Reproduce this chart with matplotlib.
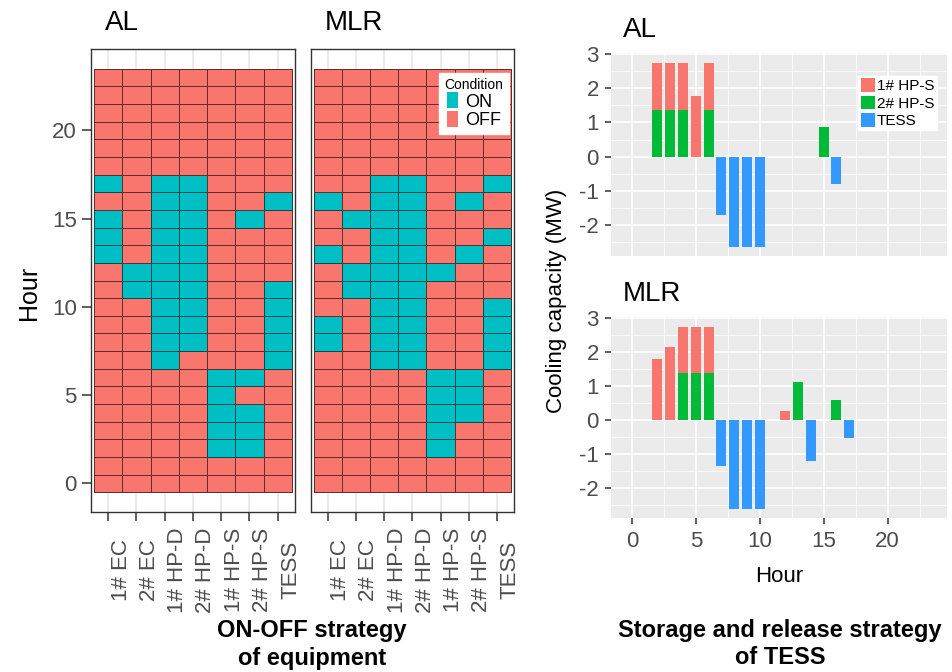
import numpy as np
import matplotlib
matplotlib.use('Agg')
import matplotlib.pyplot as plt
import matplotlib.transforms as mtransforms
from matplotlib.colors import ListedColormap
from matplotlib.patches import Patch

plt.rcParams['font.family'] = ['Liberation Sans', 'DejaVu Sans']
plt.rcParams['axes.unicode_minus'] = False

# equipment on the heat maps (columns)
devices = ['1# EC', '2# EC', '1# HP-D', '2# HP-D', '1# HP-S', '2# HP-S', 'TESS']

# hours in which each device is ON, same order as devices
al_on_hours = [
    [13, 14, 15, 17],
    [11, 12],
    [7, 8, 9, 10, 11, 12, 13, 14, 15, 16, 17],
    [8, 9, 10, 11, 12, 13, 14, 15, 16, 17],
    [2, 3, 4, 5, 6],
    [2, 3, 4, 6, 15],
    [7, 8, 9, 10, 11, 16],
]
mlr_on_hours = [
    [8, 9, 13, 16],
    [11, 12, 15],
    [7, 8, 9, 10, 11, 12, 13, 14, 15, 16, 17],
    [7, 8, 9, 10, 11, 12, 13, 14, 15, 16, 17],
    [2, 3, 4, 5, 6, 12],
    [4, 5, 6, 13, 16],
    [7, 8, 9, 10, 14, 17],
]

# cooling capacity (MW) per hour
al_hp1_hours = [2, 3, 4, 5, 6]
al_hp1_mw = [1.38, 1.38, 1.38, 1.78, 1.38]
al_hp2_hours = [2, 3, 4, 6, 15]
al_hp2_mw = [1.37, 1.37, 1.37, 1.37, 0.86]
al_tess_hours = [7, 8, 9, 10, 11, 16]
al_tess_mw = [-1.69, -2.63, -2.63, -2.63, -0.02, -0.79]

mlr_hp1_hours = [2, 3, 4, 5, 6, 12]
mlr_hp1_mw = [1.79, 2.14, 1.36, 1.36, 1.36, 0.26]
mlr_hp2_hours = [4, 5, 6, 13, 16]
mlr_hp2_mw = [1.37, 1.37, 1.37, 1.11, 0.58]
mlr_tess_hours = [7, 8, 9, 10, 14, 17]
mlr_tess_mw = [-1.36, -2.63, -2.63, -2.63, -1.21, -0.53]

RED = '#F8766D'
CYAN = '#00BFC4'
GREEN = '#00BA38'
BLUE = '#3399FF'
DARK = '#333333'
TICKTXT = '#4D4D4D'

W, H = 953, 672


def box(x0, y0, x1, y1):
    # pixel box (top-left origin) -> figure fraction
    return [x0 / W, 1 - y1 / H, (x1 - x0) / W, (y1 - y0) / H]


fig = plt.figure(figsize=(W / 100, H / 100), dpi=100)


def heat_panel(rect, on_hours, first):
    ax = fig.add_axes(rect)
    grid = np.zeros((24, len(devices)))
    for j, hrs in enumerate(on_hours):
        grid[hrs, j] = 1
    ax.pcolormesh(np.arange(0.5, len(devices) + 1), np.arange(-0.5, 24.5), grid,
                  cmap=ListedColormap([RED, CYAN]), vmin=0, vmax=1,
                  edgecolors=(0, 0, 0, 0.6), linewidth=0.6, zorder=2)
    for xi in range(1, len(devices) + 1):
        ax.axvline(xi, color='#EBEBEB', lw=1.4, zorder=1)
    ax.set_xlim(0.41, 7.61)
    ax.set_ylim(-1.6, 24.6)
    ax.set_xticks(range(1, len(devices) + 1))
    ax.set_xticklabels([])
    ax.set_yticks(range(0, 21, 5))
    ax.tick_params(length=6.3, width=1.1, color=DARK, labelsize=16,
                   labelcolor=TICKTXT, pad=4.3)
    if not first:
        ax.tick_params(axis='y', length=0, labelleft=False)
    for s in ax.spines.values():
        s.set_color(DARK)
        s.set_linewidth(1.0)
    trans = mtransforms.blended_transform_factory(ax.transData, ax.transAxes)
    trans = mtransforms.offset_copy(trans, fig=fig, x=18.4, y=0, units='dots')
    for j, name in enumerate(devices):
        ax.text(j + 1, -0.126, name, transform=trans, rotation=90,
                rotation_mode='anchor', ha='center', va='baseline',
                fontsize=16, color=TICKTXT)
    return ax


ax_al = heat_panel(box(91.5, 49.3, 295, 511.7), al_on_hours, True)
ax_mlr = heat_panel(box(311, 49.3, 514.3, 511.7), mlr_on_hours, False)

leg = ax_mlr.legend(handles=[Patch(facecolor=CYAN), Patch(facecolor=RED)],
                    labels=['ON', 'OFF'], title='Condition', title_fontsize=10,
                    fontsize=13, loc='upper right', bbox_to_anchor=(0.974, 0.949),
                    borderaxespad=0, frameon=True, fancybox=False,
                    handlelength=0.6, handleheight=1.0, handletextpad=0.4,
                    labelspacing=0.0, borderpad=0.3)
leg.get_frame().set_facecolor('white')
leg.get_frame().set_edgecolor('white')
leg.get_frame().set_alpha(1)
leg.set_zorder(5)


def bar_panel(rect, hp1_h, hp1_v, hp2_h, hp2_v, tess_h, tess_v, bottom_axis):
    ax = fig.add_axes(rect)
    ax.set_facecolor('#EBEBEB')
    for s in ax.spines.values():
        s.set_visible(False)
    w = 0.78
    ax.bar(hp2_h, hp2_v, width=w, color=GREEN, zorder=3)
    hp2_lookup = dict(zip(hp2_h, hp2_v))
    base = [hp2_lookup.get(h, 0) for h in hp1_h]
    ax.bar(hp1_h, hp1_v, width=w, bottom=base, color=RED, zorder=3)
    ax.bar(tess_h, tess_v, width=w, color=BLUE, zorder=3)
    ax.set_xlim(-1.63, 24.65)
    ax.set_ylim(-2.9, 3.02)
    ax.set_xticks([0, 5, 10, 15, 20])
    ax.set_xticks([2.5, 7.5, 12.5, 17.5, 22.5], minor=True)
    ax.set_yticks(range(-2, 4))
    ax.set_yticks(np.arange(-2.5, 3.0, 1.0), minor=True)
    ax.grid(which='major', color='white', linewidth=1.2)
    ax.grid(which='minor', color='white', linewidth=0.55)
    ax.set_axisbelow(True)
    ax.tick_params(which='minor', length=0)
    ax.tick_params(which='major', length=4.3, width=1.1, color=DARK,
                   labelsize=16, labelcolor=TICKTXT, pad=4.5)
    if not bottom_axis:
        ax.tick_params(axis='x', length=0, labelbottom=False)
    return ax


ax_bal = bar_panel(box(611, 53.3, 947, 256), al_hp1_hours, al_hp1_mw,
                   al_hp2_hours, al_hp2_mw, al_tess_hours, al_tess_mw, False)
ax_bmlr = bar_panel(box(611, 317, 947, 518.3), mlr_hp1_hours, mlr_hp1_mw,
                    mlr_hp2_hours, mlr_hp2_mw, mlr_tess_hours, mlr_tess_mw, True)

leg2 = ax_bal.legend(handles=[Patch(facecolor=RED), Patch(facecolor=GREEN),
                              Patch(facecolor=BLUE)],
                     labels=['1# HP-S', '2# HP-S', 'TESS'], fontsize=11,
                     loc='upper right', bbox_to_anchor=(0.969, 0.888),
                     borderaxespad=0, frameon=True, fancybox=False,
                     handlelength=0.9, handleheight=1.0, handletextpad=0.15,
                     labelspacing=0.15, borderpad=0.15)
leg2.get_frame().set_facecolor('white')
leg2.get_frame().set_edgecolor('white')
leg2.get_frame().set_alpha(1)

# panel titles
fig.text(105 / W, 1 - 23 / H, 'AL', fontsize=20, ha='left', va='center')
fig.text(325 / W, 1 - 23 / H, 'MLR', fontsize=20, ha='left', va='center')
fig.text(623 / W, 1 - 30 / H, 'AL', fontsize=20, ha='left', va='center')
fig.text(623 / W, 1 - 294 / H, 'MLR', fontsize=20, ha='left', va='center')

# axis titles
fig.text(36 / W, 1 - 293 / H, 'Hour', fontsize=18, rotation=90,
         rotation_mode='anchor', ha='center', va='baseline')
fig.text(562 / W, 1 - 301 / H, 'Cooling capacity (MW)', fontsize=16, rotation=90,
         rotation_mode='anchor', ha='center', va='baseline')
fig.text(779 / W, 1 - 581.7 / H, 'Hour', fontsize=16, ha='center', va='baseline')

# captions
fig.text(312 / W, 1 - 636.5 / H, 'ON-OFF strategy', fontsize=17,
         fontweight='bold', ha='center', va='baseline')
fig.text(312 / W, 1 - 664.5 / H, 'of equipment', fontsize=17,
         fontweight='bold', ha='center', va='baseline')
fig.text(780 / W, 1 - 636.5 / H, 'Storage and release strategy', fontsize=17,
         fontweight='bold', ha='center', va='baseline')
fig.text(780 / W, 1 - 664.5 / H, 'of TESS', fontsize=17,
         fontweight='bold', ha='center', va='baseline')

fig.savefig('out.png', dpi=100)
